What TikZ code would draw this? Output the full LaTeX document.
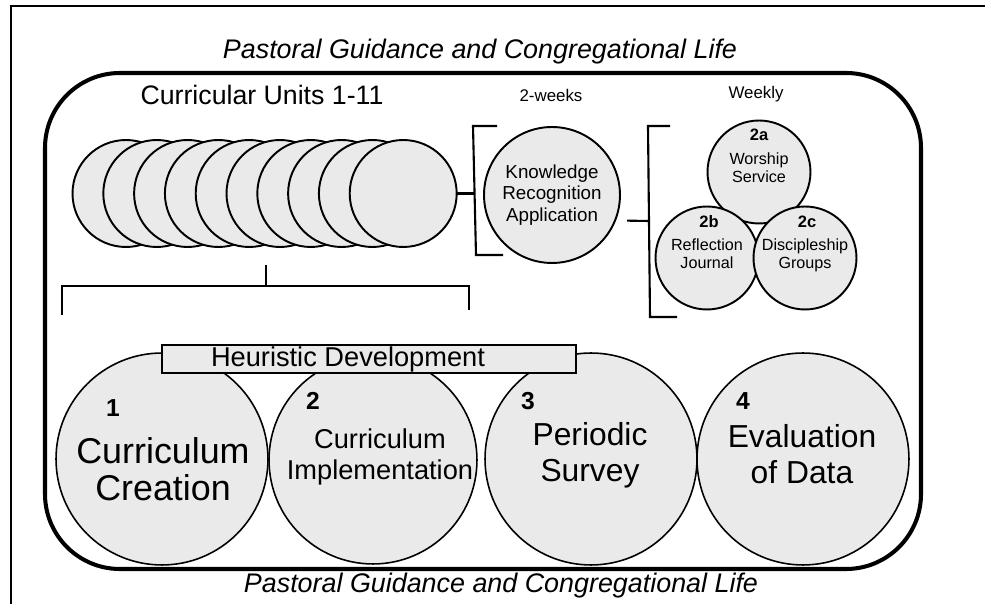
\documentclass[tikz,border=0pt]{standalone}
\usepackage{fontspec}
\setmainfont{Liberation Sans}
\usetikzlibrary{positioning}
\definecolor{unitgray}{HTML}{EAEAEA}

\begin{document}
\begin{tikzpicture}[x=0.02cm, y=-0.02cm, outer sep=0,
    unit/.style={draw, circle, fill=unitgray, line width=1.1pt, inner sep=0, minimum size=2.14cm},
    weekunit/.style={unit, minimum size=2.06cm},
    stage/.style={draw, circle, fill=unitgray, line width=0.9pt, inner sep=0, minimum size=4.24cm},
    bracket/.style={line width=1.2pt},
    link/.style={line width=1.2pt},
    title/.style={font=\itshape\fontsize{15.3}{18}\selectfont, anchor=base},
    heading/.style={font=\fontsize{9.6}{11}\selectfont, anchor=base},
    weeknum/.style={font=\bfseries\fontsize{9.4}{11}\selectfont, anchor=base},
    weektext/.style={font=\fontsize{9.2}{10.2}\selectfont, align=center, inner sep=0},
    stagenum/.style={font=\bfseries\fontsize{14}{16}\selectfont, anchor=base}]
        \useasboundingbox (0,0) rectangle (985,604);
        % frames
        \draw[line width=1pt] (11,604) -- (11,6) -- (985,6);
        \draw[line width=2.3pt, rounded corners=1.5cm] (45,73) rectangle (921,569);
        \node [title] (toptitle) at (480,59) {Pastoral Guidance and Congregational Life};
        \node [title] (bottomtitle) at (501,593) {Pastoral Guidance and Congregational Life};
        % curricular units
        \node [font=\fontsize{15.2}{18}\selectfont, anchor=base] (unitstitle) at (262,105) {Curricular Units 1-11};
        \foreach \i in {1,...,10}
            \node [unit] (unit\i) at ({126+30.8*(\i-1)},193.5) {};
        \coordinate (unitsjoin) at (474,193.5);
        \draw[link] (unit10.east) -- (unitsjoin);
        % two weeks
        \node [heading] (twoweeks) at (551,102) {2-weeks};
        \draw[bracket] (497,126) -- (473,126) -- (476,255) -- (503,255);
        \node [unit, minimum size=2.72cm, align=center, font=\fontsize{10.7}{12.3}\selectfont] (kra) at (552,195) {Knowledge\\Recognition\\Application};
        \coordinate (weekjoin) at (649,221);
        \draw[link, shorten <=0.24cm] (kra.-22) -- (weekjoin);
        % weekly
        \node [heading] (weekly) at (756,99) {Weekly};
        \draw[bracket] (670,126) -- (648,126) -- (650,317) -- (677,317);
        \node [weekunit] (worship) at (759,172) {};
        \node [weekunit] (reflection) at (707,258) {};
        \node [weekunit] (disciple) at (805,258) {};
        \node [weeknum] (worshipnum) at (759,141) {2a};
        \node [weeknum] (reflectionnum) at (709,228) {2b};
        \node [weeknum] (disciplenum) at (807,228) {2c};
        \node [weektext] (worshiptxt) at (759,168) {Worship\\Service};
        \node [weektext] (reflectiontxt) at (707,254) {Reflection\\Journal};
        \node [weektext] (discipletxt) at (805,255) {Discipleship\\Groups};
        % units bracket
        \coordinate (unitsfoot) at (266,265);
        \draw[bracket] (unitsfoot) -- (266,286);
        \draw[bracket] (62,315) -- (62,286) -- (469,286) -- (469,310);
        % stages
        \node [stage] (creation) at (162,459) {};
        \node [stage, minimum size=4.16cm] (implement) at (373,460) {};
        \node [stage] (survey) at (591,459) {};
        \node [stage] (evaluate) at (803,459) {};
        \node [draw, fill=unitgray, line width=0.9pt, minimum width=8.28cm, minimum height=0.56cm, inner sep=0] (heuristic) at (369,359) {};
        \node [font=\fontsize{15.5}{18}\selectfont, anchor=base west, inner sep=0] (heuristictxt) at (211,367) {Heuristic Development};
        \node [stagenum] (creationnum) at (113,417) {1};
        \node [stagenum] (implementnum) at (313,410) {2};
        \node [stagenum] (surveynum) at (528,410) {3};
        \node [stagenum] (evaluatenum) at (743,410) {4};
        \node [align=center, inner sep=0, font=\fontsize{20.4}{21}\selectfont] (creationtxt) at (163,469) {Curriculum\\Creation};
        \node [align=center, inner sep=0, font=\fontsize{15.5}{18}\selectfont] (implementtxt) at (380,457) {Curriculum\\Implementation};
        \node [align=center, inner sep=0, font=\fontsize{18.1}{20.4}\selectfont] (surveytxt) at (590,455) {Periodic\\Survey};
        \node [align=center, inner sep=0, font=\fontsize{18.1}{20.4}\selectfont] (evaluatetxt) at (802,454) {Evaluation\\of Data};
    \end{tikzpicture}
\end{document}
